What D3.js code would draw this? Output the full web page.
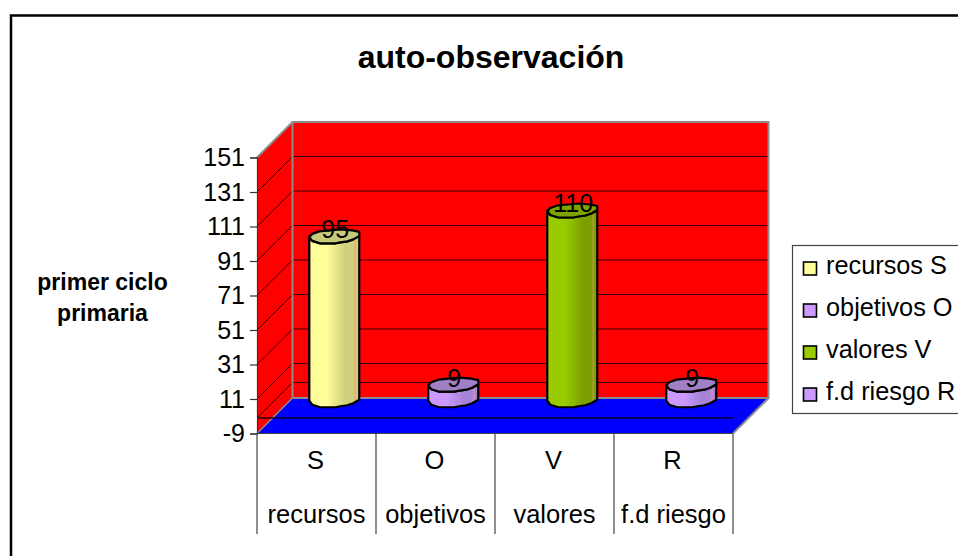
<!DOCTYPE html>
<html><head><meta charset="utf-8">
<script src="https://cdn.jsdelivr.net/npm/d3@7"></script>
<style>html,body{margin:0;padding:0;background:#fff;overflow:hidden}text{font-family:"Liberation Sans",Arial,sans-serif;fill:#000}</style>
</head><body><svg id="c" width="958" height="556"></svg>
<script>
const chartTitle = "auto-observación";
const axisTitle = ["primer ciclo", "primaria"];
const codes = ["S", "O", "V", "R"];
const categories = ["recursos", "objetivos", "valores", "f.d riesgo"];
const values = [95, 9, 110, 9];
const legendLabels = ["recursos S", "objetivos O", "valores V", "f.d riesgo R"];
const tickValues = [-9, 11, 31, 51, 71, 91, 111, 131, 151];
const barColors = [
  {l:"#FFFF99", d:"#CFCF7C", cap:"#C9C97A", t:"#E8B070"},
  {l:"#CC99FF", d:"#A583D6", cap:"#A07FC6", t:"#D88AC0"},
  {l:"#99CC00", d:"#7B9F00", cap:"#7CA300", t:"#B09A30"},
  {l:"#CC99FF", d:"#A583D6", cap:"#A07FC6", t:"#D88AC0"}
];

const svg = d3.select("#c");
const W = 958, H = 556;
const depth = 35.5;
const y = d3.scaleLinear().domain([-9, 151]).range([433.5, 157.5]);
const x = d3.scaleBand().domain(codes).range([257, 733]);
const floorY = y(-9), topY = y(151), L = x.range()[0], R = x.range()[1];
const line = d3.line();

svg.append("rect").attr("width", W).attr("height", H).attr("fill", "#fff");
// outer frame
svg.append("path").attr("d", line([[11,H+2],[11,15.5],[W+2,15.5]])).attr("fill","none").attr("stroke","#000").attr("stroke-width",2.5);

// walls
svg.append("path").attr("d", line([[L+depth,topY-depth],[R+depth,topY-depth],[R+depth,floorY-depth],[L+depth,floorY-depth]])+"Z").attr("fill","#f00");
svg.append("path").attr("d", line([[L,topY],[L+depth,topY-depth],[L+depth,floorY-depth],[L,floorY]])+"Z").attr("fill","#f00");
svg.append("path").attr("d", line([[L,floorY],[R,floorY],[R+depth,floorY-depth],[L+depth,floorY-depth]])+"Z").attr("fill","#00f");

// grid
const gridVals = tickValues.slice(1).concat([0]);
gridVals.forEach(v => {
  const yy = y(v);
  svg.append("path").attr("d", line([[L,yy],[L+depth,yy-depth],[R+depth,yy-depth]])).attr("fill","none").attr("stroke","#000").attr("stroke-opacity",.8).attr("stroke-width",1);
});
// wall edges
svg.append("path").attr("d", line([[L,topY],[L+depth,topY-depth],[R+depth,topY-depth],[R+depth,floorY-depth],[R,floorY]])).attr("fill","none").attr("stroke","#8c8c8c").attr("stroke-width",2);
svg.append("path").attr("d", line([[L+depth,topY-depth],[L+depth,floorY-depth],[R+depth,floorY-depth]])).attr("fill","none").attr("stroke","#8c8c8c").attr("stroke-width",2);
svg.append("path").attr("d", line([[L,floorY],[L+depth,floorY-depth]])).attr("fill","none").attr("stroke","#8c8c8c").attr("stroke-width",1.5);
// zero line across the floor
svg.append("path").attr("d", line([[L,y(0)],[R,y(0)]])).attr("stroke","#000").attr("stroke-width",1.5).attr("stroke-opacity",.85);

// bars: normalised outline of the irregular cylinder
const frontEdge = [[-25,0.5],[-22,4.5],[-14,7],[1,7],[6,6],[13,5],[19,3],[25,-0.5]];
const backEdge = [[25,-4.5],[18,-6],[6,-7],[-15,-5],[-22,-2.5]];
const defs = svg.append("defs");
barColors.forEach((c,i) => {
  const g = defs.append("linearGradient").attr("id","bar"+i);
  [[0,c.t],[.04,c.l],[.35,c.l],[.72,c.d],[.88,c.d],[.92,c.t],[.95,c.d],[1,c.d]].forEach(s=>g.append("stop").attr("offset",s[0]).attr("stop-color",s[1]));
});
values.forEach((v,i) => {
  const cx = x(codes[i]) + x.bandwidth()/2 + depth/2;
  const y0 = y(0) - depth/2, y1 = y(v) - depth/2;
  const base = frontEdge.map(p=>[cx+p[0], y0+p[1]]);
  const capF = frontEdge.map(p=>[cx+p[0], y1+p[1]]);
  const capB = backEdge.map(p=>[cx+p[0], y1+p[1]]);
  const body = base.concat(capF.slice().reverse());
  svg.append("path").attr("d", line(body)+"Z").attr("fill",`url(#bar${i})`).attr("stroke","#000").attr("stroke-width",2.2).attr("stroke-linejoin","round");
  svg.append("path").attr("d", line(capF.concat(capB))+"Z").attr("fill",barColors[i].cap).attr("stroke","#000").attr("stroke-width",2.2).attr("stroke-linejoin","round");
  svg.append("text").attr("x",cx+1).attr("y",y1+2).attr("text-anchor","middle").attr("font-size",25).text(v);
});

// value axis
const yAxis = d3.axisLeft(y).tickValues(tickValues).tickSize(7).tickPadding(5).tickFormat(d => String(d));
const ag = svg.append("g").attr("transform",`translate(${L},0)`).call(yAxis);
ag.selectAll("path,line").attr("stroke","#333").attr("stroke-width",1.2);
ag.selectAll("text").attr("font-size",25).attr("font-family","Liberation Sans").attr("fill","#000");

// category table
svg.append("path").attr("d", line([[L,floorY],[R,floorY]])).attr("stroke","#444").attr("stroke-width",1.2);
d3.range(codes.length+1).forEach(i=>{
  const xx = L + i*x.step();
  svg.append("path").attr("d", line([[xx,floorY],[xx,534]])).attr("stroke","#444").attr("stroke-width",1.2);
});
codes.forEach((c,i)=>{
  const cx = x(c)+x.bandwidth()/2;
  svg.append("text").attr("x",cx-1).attr("y",469).attr("text-anchor","middle").attr("font-size",25.5).text(c);
  svg.append("text").attr("x",cx).attr("y",523).attr("text-anchor","middle").attr("font-size",25.5).text(categories[i]);
});

// titles
svg.append("text").attr("x",491).attr("y",68).attr("text-anchor","middle").attr("font-size",32).attr("font-weight","bold").text(chartTitle);
axisTitle.forEach((t,i)=>svg.append("text").attr("x",102.5).attr("y",290+i*31).attr("text-anchor","middle").attr("font-size",23).attr("font-weight","bold").text(t));

// legend
svg.append("rect").attr("x",792.5).attr("y",245.5).attr("width",180).attr("height",168).attr("fill","#fff").attr("stroke","#444").attr("stroke-width",1.2);
const ly = d3.scalePoint().domain(legendLabels).range([268.5,394.5]);
legendLabels.forEach((t,i)=>{
  const c = ly(t);
  svg.append("rect").attr("x",803.5).attr("y",c-6.5).attr("width",13).attr("height",13).attr("fill",barColors[i].l).attr("stroke","#000").attr("stroke-width",1.6);
  svg.append("text").attr("x",826).attr("y",c+5.5).attr("font-size",25.3).text(t);
});
</script></body></html>
